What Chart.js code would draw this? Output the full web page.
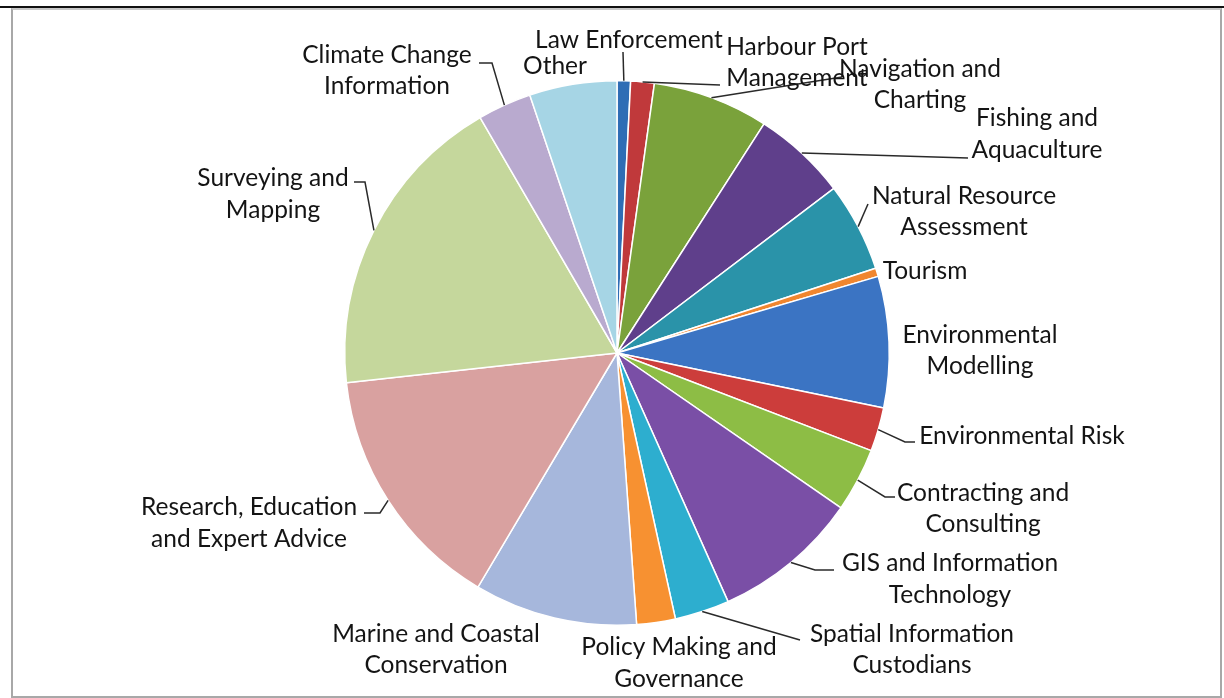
<!DOCTYPE html>
<html>
<head>
<meta charset="utf-8">
<script src="https://cdn.jsdelivr.net/npm/chart.js@4.4.1/dist/chart.umd.min.js"></script>
<style>
  body { margin: 0; background: #fff; }
  #wrap { position: relative; width: 1224px; height: 698px; overflow: hidden; }
  #topline { position: absolute; left: 0; top: 6px; width: 1224px; height: 2px; background: #111; }
  #frame { position: absolute; left: 11px; top: 8px; width: 1207px; height: 686px; border: 2px solid #a8a8a8; border-top-color: #c8c8c8; }
  canvas { position: absolute; left: 0; top: 0; }
</style>
</head>
<body>
<div id="wrap">
  <div id="frame"></div>
  <div id="topline"></div>
  <canvas id="pieChart" width="1224" height="698"></canvas>
</div>
<script>
// categories (clockwise from 12 o'clock)
const categories = [
  'Law Enforcement',
  ['Harbour Port', 'Management'],
  ['Navigation and', 'Charting'],
  ['Fishing and', 'Aquaculture'],
  ['Natural Resource', 'Assessment'],
  'Tourism',
  ['Environmental', 'Modelling'],
  'Environmental Risk',
  ['Contracting and', 'Consulting'],
  ['GIS and Information', 'Technology'],
  ['Spatial Information', 'Custodians'],
  ['Policy Making and', 'Governance'],
  ['Marine and Coastal', 'Conservation'],
  ['Research, Education', 'and Expert Advice'],
  ['Surveying and', 'Mapping'],
  ['Climate Change', 'Information'],
  'Other'
];

// share of responses (%)
const shares = [0.8, 1.4, 6.9, 5.6, 5.3, 0.5, 7.8, 2.6, 3.8, 8.7, 3.25, 2.3, 9.7, 14.75, 18.4, 3.2, 5.2];

const sliceColors = [
  '#2f6db5', '#c0393b', '#7aa23b', '#5f3f8b', '#2a93a9', '#f0862f',
  '#3b74c3', '#cc3d3b', '#8dbd45', '#7a4fa6', '#2daecf', '#f79131',
  '#a6b7dc', '#d9a1a0', '#c5d79c', '#b9aacf', '#a6d5e5'
];

// where each label sits, and the bend points of its leader line
const labelLayout = [
  { x: 629, y: [40], line: [[623, 52]] },
  { x: 797, y: [47, 78], line: [[720, 85]] },
  { x: 920, y: [69, 100], line: [[842, 77]] },
  { x: 1037, y: [118, 150], line: [[968, 158]] },
  { x: 964, y: [196, 227], line: [[868, 204]] },
  { x: 925, y: [271], line: [] },
  { x: 980, y: [335, 366], line: [] },
  { x: 1022, y: [436], line: [[905, 442], [915, 442]] },
  { x: 983, y: [493, 524], line: [[885, 497], [895, 497]] },
  { x: 950, y: [563, 595], line: [[815, 570], [834, 570]] },
  { x: 912, y: [634, 665], line: [[800, 640]] },
  { x: 679, y: [647, 679], line: [] },
  { x: 436, y: [634, 665], line: [] },
  { x: 249, y: [507, 539], line: [[380, 513], [364, 513]] },
  { x: 273, y: [178, 210], line: [[365, 182], [354, 182]] },
  { x: 387, y: [55, 86], line: [[492, 63], [479, 63]] },
  { x: 555, y: [66], line: [] }
];

// draws the outside labels with leader lines from the middle of each slice edge
const outsideLabels = {
  id: 'outsideLabels',
  afterDatasetsDraw(chart) {
    const ctx = chart.ctx;
    const arcs = chart.getDatasetMeta(0).data;
    ctx.save();
    ctx.strokeStyle = '#2a2a2a';
    ctx.lineWidth = 1.5;
    arcs.forEach((arc, i) => {
      const pts = labelLayout[i].line;
      if (!pts.length) return;
      const mid = (arc.startAngle + arc.endAngle) / 2;
      ctx.beginPath();
      ctx.moveTo(arc.x + Math.cos(mid) * arc.outerRadius, arc.y + Math.sin(mid) * arc.outerRadius);
      pts.forEach(p => ctx.lineTo(p[0], p[1]));
      ctx.stroke();
    });
    ctx.fillStyle = '#141414';
    ctx.font = '24.5px Lato';
    ctx.textAlign = 'center';
    ctx.textBaseline = 'middle';
    chart.data.labels.forEach((lab, i) => {
      const lines = Array.isArray(lab) ? lab : [lab];
      lines.forEach((t, k) => ctx.fillText(t, labelLayout[i].x, labelLayout[i].y[k]));
    });
    ctx.restore();
  }
};

new Chart(document.getElementById('pieChart').getContext('2d'), {
  type: 'pie',
  data: {
    labels: categories,
    datasets: [{
      data: shares,
      backgroundColor: sliceColors,
      borderColor: '#ffffff',
      borderWidth: 1.5
    }]
  },
  options: {
    responsive: false,
    animation: false,
    events: [],
    layout: { padding: { left: 344, right: 334, top: 80, bottom: 72 } },
    plugins: {
      legend: { display: false },
      tooltip: { enabled: false }
    }
  },
  plugins: [outsideLabels]
});
</script>
</body>
</html>
